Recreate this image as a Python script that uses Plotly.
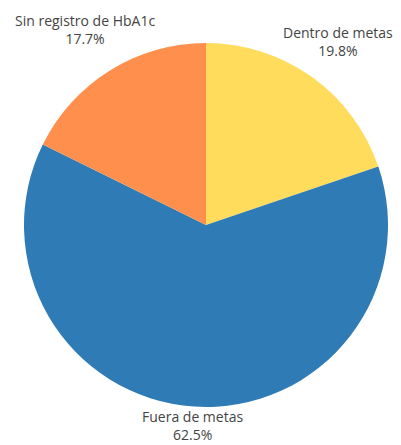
import math
import plotly.graph_objects as go

labels = ["Dentro de metas", "Fuera de metas", "Sin registro de HbA1c"]
values = [19.8, 62.5, 17.7]
colors = ["#FFDC5C", "#2E7BB5", "#FF8F4C"]

W, H = 401, 445
# pie placement in pixels (center and radius)
CX, CY, R = 206, 225, 182
FONT_SIZE = 14
CHAR_W = 0.52 * FONT_SIZE
HALF_H = 13.5        # half height of a two-line label (glyph extents)
GAP = 5              # clearance between pie edge and label

dom_x = [(CX - R) / W, (CX + R) / W]
dom_y = [1 - (CY + R) / H, 1 - (CY - R) / H]

fig = go.Figure(
    go.Pie(
        labels=labels,
        values=values,
        sort=False,
        direction="clockwise",
        rotation=0,
        marker=dict(colors=colors, line=dict(width=0)),
        textposition="none",
        hoverinfo="label+percent",
        showlegend=False,
        domain=dict(x=dom_x, y=dom_y),
    )
)


def label_center(theta, hw, hh):
    """Point on the slice mid-ray where the label box sits just outside the pie."""
    ux, uy = math.sin(theta), math.cos(theta)
    lo, hi = 0.0, 3 * R
    for _ in range(60):
        d = (lo + hi) / 2
        cx, cy = d * ux, d * uy
        near = math.hypot(max(0.0, abs(cx) - hw), max(0.0, abs(cy) - hh))
        if near < R + GAP:
            lo = d
        else:
            hi = d
    return d * ux, d * uy


label_font = dict(family="Open Sans", size=FONT_SIZE, color="#444")
total = sum(values)
cum = 0.0
for lab, val in zip(labels, values):
    mid = (cum + val / 2) / total * 2 * math.pi
    cum += val
    pct = f"{val / total * 100:.1f}%"
    hw = len(lab) * CHAR_W / 2
    dx, dy = label_center(mid, hw, HALF_H)
    px, py = CX + dx, CY - dy
    fig.add_annotation(
        x=px / W,
        y=1 - py / H,
        xref="paper",
        yref="paper",
        text=f"{lab}<br>{pct}",
        showarrow=False,
        xanchor="center",
        yanchor="middle",
        borderpad=0,
        font=label_font,
    )

fig.update_layout(
    width=W,
    height=H,
    margin=dict(l=0, r=0, t=0, b=0),
    paper_bgcolor="white",
    plot_bgcolor="white",
    font=dict(family="Open Sans"),
)

fig.write_html("out.html")
